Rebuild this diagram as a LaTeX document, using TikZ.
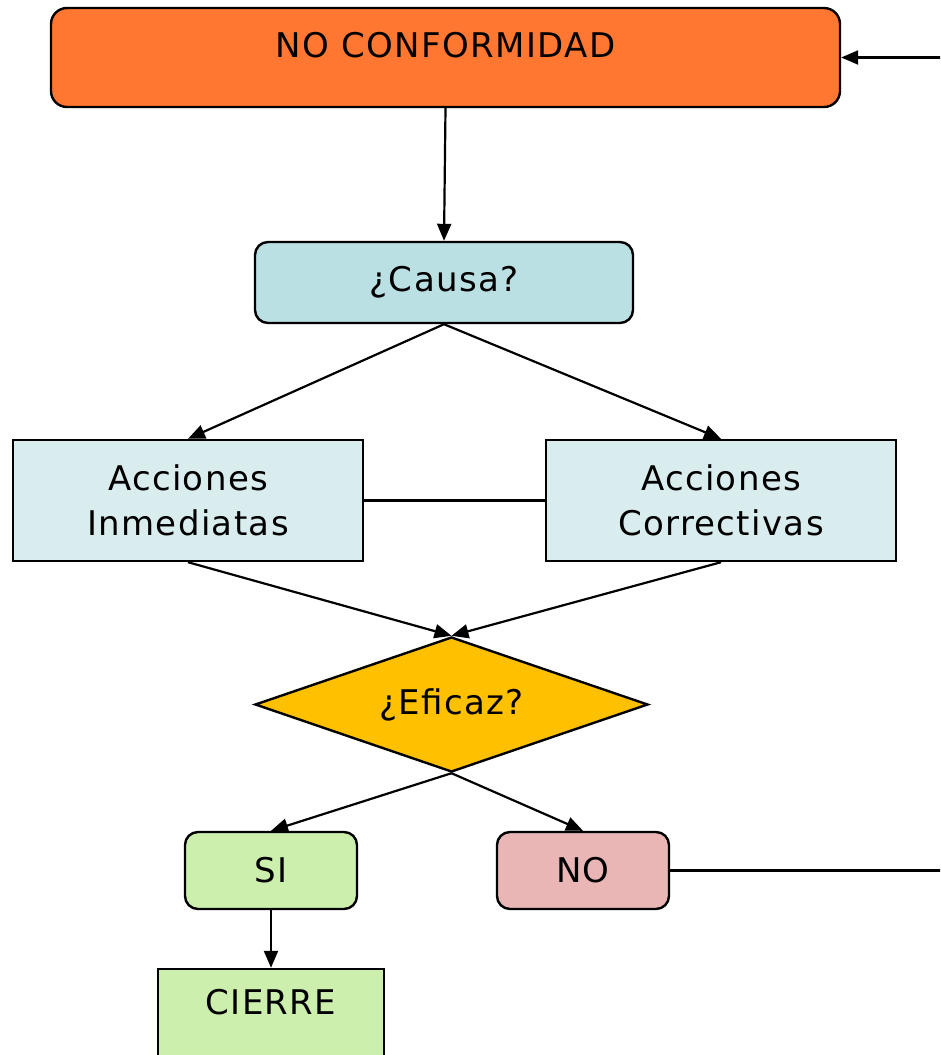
\documentclass[tikz,border=0pt]{standalone}
\usepackage{fontspec}
\setmainfont[LetterSpace=4]{DejaVu Sans}
\usetikzlibrary{arrows.meta,shapes.geometric}
\definecolor{ncfill}{HTML}{FF7731}
\definecolor{causafill}{HTML}{BAE0E3}
\definecolor{accfill}{HTML}{DAEDEE}
\definecolor{effill}{HTML}{FFC000}
\definecolor{sifill}{HTML}{CDEFAE}
\definecolor{nofill}{HTML}{E9B5B5}
\begin{document}
\begin{tikzpicture}[x=1pt,y=-1pt,
  txt/.style={font=\fontsize{34}{45}\selectfont},
  box/.style={draw=black, line width=2.4pt, inner sep=0pt, align=center, txt},
  rbox/.style={box, rounded corners=13pt},
  arr/.style={-{Triangle[length=17pt,width=14pt]}, line width=2.2pt},
  conn/.style={line width=2.2pt}]
\useasboundingbox (0,0) rectangle (940,1055);
\clip (0,0) rectangle (940,1055);

\node[rbox, fill=ncfill, rounded corners=16pt, minimum width=789pt, minimum height=99pt,
  label={[txt, anchor=center, yshift=12pt]center:NO CONFORMIDAD}] (nc) at (445.5,57.5) {};
\node[rbox, fill=causafill, minimum width=378pt, minimum height=81pt] (causa) at (444,282.5) {¿Causa?};
\node[box, fill=accfill, minimum width=350pt, minimum height=121pt] (acc1) at (188,500.5) {Acciones\\Inmediatas};
\node[box, fill=accfill, minimum width=350pt, minimum height=121pt] (acc2) at (721,500.5) {Acciones\\Correctivas};
\node[box, diamond, fill=effill, aspect=2.9, minimum width=393pt, minimum height=135pt] (ef) at (451.5,704.5) {¿Eficaz?};
\node[rbox, fill=sifill, minimum width=172pt, minimum height=77pt] (si) at (271,870.5) {SI};
\node[rbox, fill=nofill, minimum width=172pt, minimum height=77pt] (no) at (583,870.5) {NO};
\node[box, fill=sifill, minimum width=226pt, minimum height=140pt,
  label={[txt, anchor=center, yshift=-34pt]north:CIERRE}] (cierre) at (271,1039) {};

\coordinate (inR) at (950,57.5);
\coordinate (outR) at (950,870.5);

\draw[arr] (inR) -- (nc.east);
\draw[arr] (nc.south) -- (causa.north);
\draw[arr] (causa.south) -- (acc1.north);
\draw[arr] (causa.south) -- (acc2.north);
\draw[conn] (acc1.east) -- (acc2.west);
\draw[arr] (acc1.south) -- (ef.north);
\draw[arr] (acc2.south) -- (ef.north);
\draw[arr] (ef.south) -- (si.north);
\draw[arr] (ef.south) -- (no.north);
\draw[conn] (no.east) -- (outR);
\draw[arr] (si.south) -- (cierre.north);
\end{tikzpicture}
\end{document}
